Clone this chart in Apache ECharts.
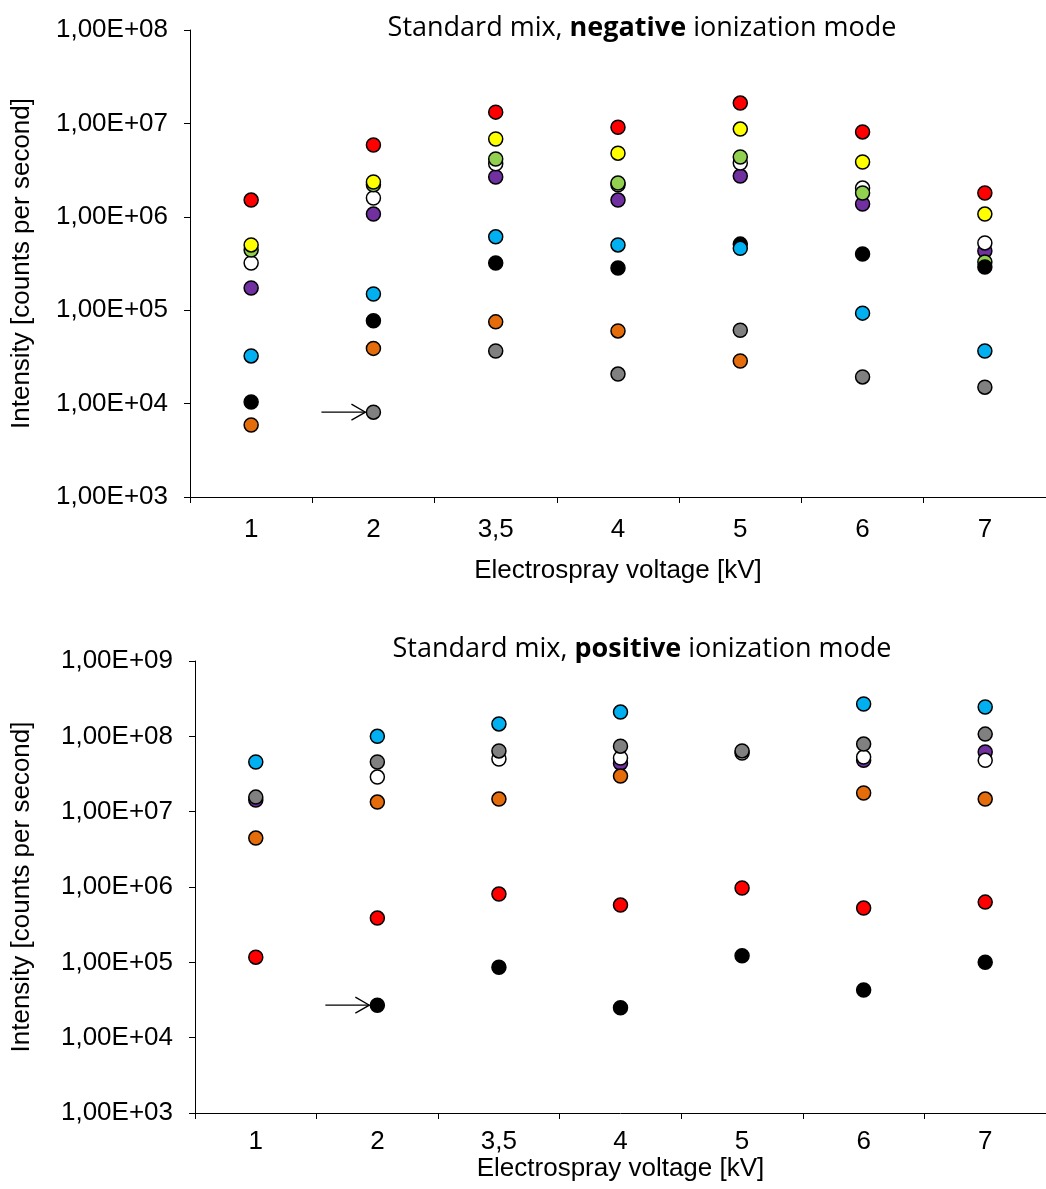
<!DOCTYPE html>
<html><head><meta charset="utf-8">
<script src="https://cdn.jsdelivr.net/npm/echarts@6/dist/echarts.min.js"></script>
<style>html,body{margin:0;padding:0;background:#fff}#c{width:1046px;height:1189px}</style>
</head><body><div id="c"></div>
<script>
const categories = ['1', '2', '3,5', '4', '5', '6', '7'];

// Negative ionization mode (top chart)
const negPurple = [1.73e5, 1.07e6, 2.67e6, 1.51e6, 2.73e6, 1.37e6, 4.3e5];
const negWhite  = [3.2e5, 1.59e6, 3.7e6, 2.2e6, 3.77e6, 2.03e6, 5.25e5];
const negGray   = [null, 8.1e3, 3.66e4, 2.07e4, 6.1e4, 1.93e4, 1.5e4];
const negGreen  = [4.4e5, 2.2e6, 4.16e6, 2.3e6, 4.37e6, 1.8e6, 3.28e5];
const negYellow = [5.0e5, 2.36e6, 6.8e6, 4.8e6, 8.7e6, 3.86e6, 1.07e6];
const negOrange = [5.9e3, 3.9e4, 7.5e4, 6.0e4, 2.86e4, null, null];
const negRed    = [1.51e6, 5.87e6, 1.32e7, 9.1e6, 1.65e7, 8.1e6, 1.8e6];
const negBlack  = [1.04e4, 7.7e4, 3.2e5, 2.83e5, 5.1e5, 4.0e5, 2.9e5];
const negBlue   = [3.24e4, 1.49e5, 6.1e5, 5.0e5, 4.6e5, 9.3e4, 3.66e4];

// Positive ionization mode (bottom chart)
const posPurple = [1.43e7, null, null, 4.4e7, null, 4.8e7, 6.2e7];
const posWhite  = [null, 2.88e7, 5.0e7, 5.15e7, 6.0e7, 5.3e7, 4.8e7];
const posGray   = [1.56e7, 4.56e7, 6.4e7, 7.4e7, 6.4e7, 7.9e7, 1.07e8];
const posOrange = [4.46e6, 1.34e7, 1.47e7, 2.97e7, null, 1.77e7, 1.47e7];
const posRed    = [1.17e5, 3.87e5, 8.05e5, 5.75e5, 9.7e5, 5.25e5, 6.3e5];
const posBlack  = [null, 2.7e4, 8.6e4, 2.5e4, 1.22e5, 4.3e4, 1.0e5];
const posBlue   = [4.56e7, 1.0e8, 1.46e8, 2.1e8, null, 2.69e8, 2.45e8];

const negTitle = ['Standard mix, ', 'negative', ' ionization mode'];
const posTitle = ['Standard mix, ', 'positive', ' ionization mode'];
const xName = 'Electrospray voltage [kV]';
const yName = 'Intensity [counts per second]';

const COLORS = {
  purple: '#7030A0', white: '#FFFFFF', gray: '#808080', green: '#92D050',
  yellow: '#FFFF00', orange: '#E46C0A', red: '#FF0000', black: '#000000', blue: '#00B0F0'
};

const FONT = 'Liberation Sans, Arial, sans-serif';
const FS = 26;

function mkSeries(name, data, color, idx) {
  return {
    name: name, type: 'scatter', xAxisIndex: idx, yAxisIndex: idx,
    data: data.map((v, i) => v == null ? null : [categories[i], v]),
    symbol: 'circle', symbolSize: 14,
    itemStyle: { color: color, borderColor: '#000', borderWidth: 1.5, opacity: 1 },
    emphasis: { disabled: true }, animation: false
  };
}

const fmt = v => '1,00E+' + String(Math.round(Math.log10(v))).padStart(2, '0');

function yAx(idx, min, max, split, gap) {
  return {
    type: 'log', logBase: 10, gridIndex: idx, min: min, max: max, splitNumber: split,
    name: yName, nameLocation: 'middle', nameGap: gap,
    nameTextStyle: { fontFamily: FONT, fontSize: FS, color: '#000' },
    axisLine: { show: true, lineStyle: { color: '#000', width: 1 } },
    axisTick: { show: true, length: 6, lineStyle: { color: '#000' } },
    minorTick: { show: false }, splitLine: { show: false },
    axisLabel: { formatter: fmt, fontFamily: FONT, fontSize: FS, color: '#000', margin: 22 }
  };
}
function xAx(idx, gap, lm) {
  return {
    type: 'category', gridIndex: idx, data: categories, boundaryGap: true,
    name: xName, nameLocation: 'middle', nameGap: gap,
    nameTextStyle: { fontFamily: FONT, fontSize: FS, color: '#000' },
    axisLine: { lineStyle: { color: '#000', width: 1 } },
    axisTick: { show: true, length: 6, lineStyle: { color: '#000' } },
    splitLine: { show: false },
    axisLabel: { fontFamily: FONT, fontSize: FS, color: '#000', margin: lm }
  };
}

const order = [
  ['purple', negPurple, posPurple], ['white', negWhite, posWhite], ['gray', negGray, posGray],
  ['green', negGreen, null], ['yellow', negYellow, null], ['orange', negOrange, posOrange],
  ['red', negRed, posRed], ['black', negBlack, posBlack], ['blue', negBlue, posBlue]
];
const series = [];
order.forEach(([c, n, p]) => {
  if (n) series.push(mkSeries('neg-' + c, n, COLORS[c], 0));
  if (p) series.push(mkSeries('pos-' + c, p, COLORS[c], 1));
});

function titleRich(parts, top) {
  return {
    text: '{a|' + parts[0] + '}{b|' + parts[1] + '}{a|' + parts[2] + '}',
    left: 637, top: top, textAlign: 'center',
    textStyle: { fontWeight: 'normal', rich: {
      a: { fontFamily: 'Open Sans, sans-serif', fontSize: 27, fontWeight: 'normal', color: '#000' },
      b: { fontFamily: 'Open Sans, sans-serif', fontSize: 27, fontWeight: 'bold', color: '#000' }
    } }
  };
}

const chart = echarts.init(document.getElementById('c'), null, { renderer: 'canvas' });
chart.setOption({
  animation: false,
  backgroundColor: '#fff',
  title: [titleRich(negTitle, 10), titleRich(posTitle, 631)],
  grid: [
    { left: 190, right: -5, top: 30, height: 467 },
    { left: 195, right: -5, top: 661, height: 452 }
  ],
  xAxis: [xAx(0, 61, 20), xAx(1, 39, 16)],
  yAxis: [yAx(0, 1e3, 1e8, 5, 155), yAx(1, 1e3, 1e9, 6, 160)],
  series: series
});

function arrow(gridIdx, cat, val) {
  const p = chart.convertToPixel({ gridIndex: gridIdx }, [cat, val]);
  const x2 = p[0] - 8, x1 = x2 - 44, y = p[1];
  return [
    { type: 'line', shape: { x1: x1, y1: y, x2: x2, y2: y }, style: { stroke: '#000', lineWidth: 1.3 }, z: 100 },
    { type: 'polyline', shape: { points: [[x2 - 14, y - 8], [x2, y], [x2 - 14, y + 8]] }, style: { stroke: '#000', lineWidth: 1.3, fill: null }, z: 100 }
  ];
}
chart.setOption({ graphic: arrow(0, '2', negGray[1]).concat(arrow(1, '2', posBlack[1])) });
</script></body></html>
